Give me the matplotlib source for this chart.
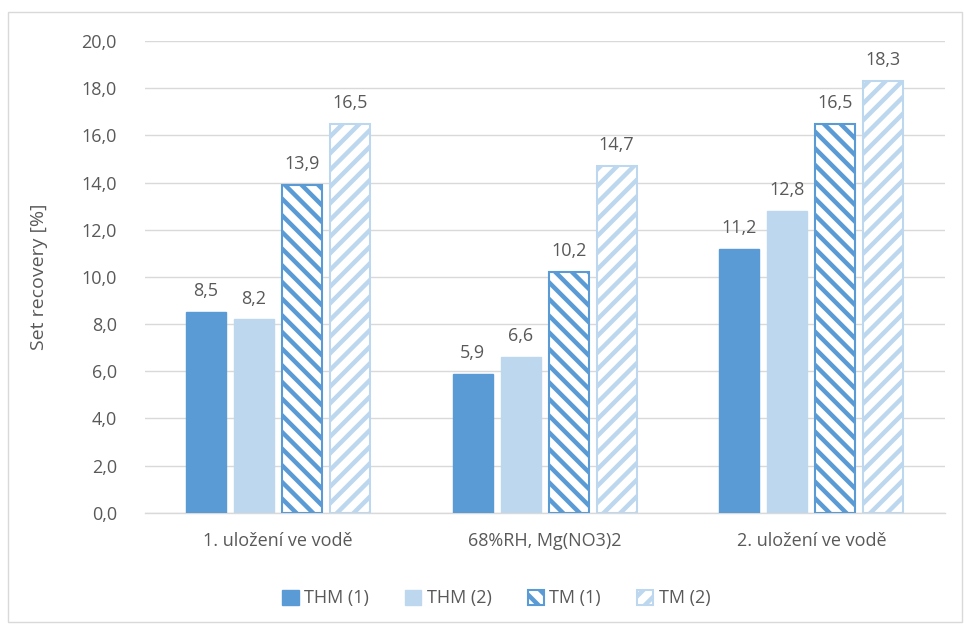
import matplotlib
matplotlib.use("Agg")
import matplotlib.pyplot as plt
from matplotlib.patches import Rectangle
import numpy as np

categories = ["1. uložení ve vodě", "68%RH, Mg(NO3)2", "2. uložení ve vodě"]
series_names = ["THM (1)", "THM (2)", "TM (1)", "TM (2)"]
thm1 = [8.5, 5.9, 11.2]
thm2 = [8.2, 6.6, 12.8]
tm1 = [13.9, 10.2, 16.5]
tm2 = [16.5, 14.7, 18.3]
series = [thm1, thm2, tm1, tm2]

dark = "#5B9BD5"
light = "#BDD7EE"
text_col = "#595959"

plt.rcParams['font.family'] = ['Open Sans', 'DejaVu Sans']
plt.rcParams['hatch.linewidth'] = 3.2

fig = plt.figure(figsize=(9.64, 6.3), dpi=100)
ax = fig.add_axes([0.150, 0.186, 0.830, 0.749])

fs = 13
x = np.arange(len(categories))
w = 0.15
step = 0.18
offsets = (np.arange(4) - 1.5) * step
styles = [
    dict(color=dark, edgecolor=dark),
    dict(color=light, edgecolor=light),
    dict(facecolor="white", edgecolor=dark, hatch="\\\\", linewidth=1.5),
    dict(facecolor="white", edgecolor=light, hatch="//", linewidth=1.5),
]
handles = []
for i, (vals, st) in enumerate(zip(series, styles)):
    bars = ax.bar(x + offsets[i], vals, w, zorder=3, label=series_names[i], **st)
    handles.append(bars)
    for xi, v in zip(x + offsets[i], vals):
        ax.text(xi, v + 0.5, f"{v:.1f}".replace(".", ","), ha="center", va="bottom",
                fontsize=fs, color=text_col)

ax.set_xlim(-0.5, 2.5)
ax.set_ylim(0, 20)
yt = np.arange(0, 20.1, 2)
ax.set_yticks(yt)
ax.set_yticklabels([f"{t:.1f}".replace(".", ",") for t in yt], fontsize=fs, color=text_col)
ax.set_xticks(x)
ax.set_xticklabels(categories, fontsize=fs, color=text_col)
ax.tick_params(axis="y", length=0, pad=20)
ax.tick_params(axis="x", length=0, pad=14)
ax.grid(axis="y", color="#D9D9D9", linewidth=1, zorder=0)
for s in ["top", "right", "left"]:
    ax.spines[s].set_visible(False)
ax.spines["bottom"].set_color("#D9D9D9")
ax.spines["bottom"].set_linewidth(1)
ax.set_ylabel("Set recovery [%]", fontsize=14, color=text_col, labelpad=24)

leg = fig.legend(handles=handles, labels=series_names, loc="center", bbox_to_anchor=(0.515, 0.050),
                 ncol=4, frameon=False, fontsize=fs, handlelength=0.9, handleheight=0.9,
                 columnspacing=2.0, handletextpad=0.3)
for t in leg.get_texts():
    t.set_color(text_col)

fig.patches.append(Rectangle((0.008, 0.013), 0.99, 0.968, transform=fig.transFigure,
                             fill=False, edgecolor="#D9D9D9", linewidth=1))

fig.savefig("out.png", dpi=100, facecolor="white")
